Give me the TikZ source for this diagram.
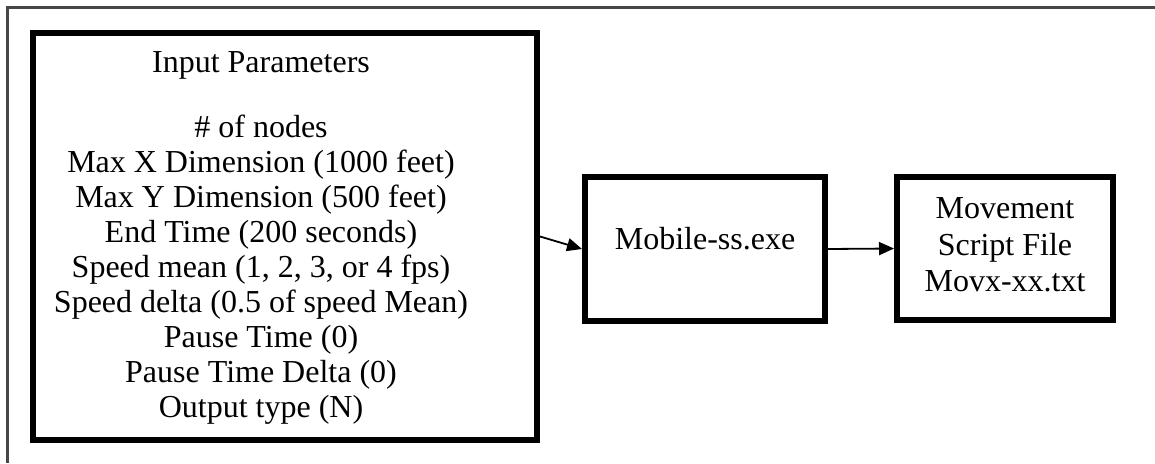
\documentclass[tikz,border=0pt]{standalone}
\usepackage{fontspec}
\setmainfont{Liberation Serif}
\usetikzlibrary{arrows.meta}

\begin{document}
\begin{tikzpicture}[x=1pt, y=-1pt, >={Triangle[length=15pt,width=13pt]},
    box/.style={draw, line width=6pt, inner sep=0pt},
    flow/.style={->, line width=1.8pt},
    frame line/.style={draw=black!72, line width=3pt},
    label text/.style={font=\fontsize{32}{36.5}\selectfont, inner sep=0pt, align=center}]
    \useasboundingbox (0,0) rectangle (1155,463);
    \draw[frame line] (7,463) -- (7,7) -- (1155,7);

    \node[box, minimum width=504pt, minimum height=407pt] (params) at (285,236.5) {};
    \node[label text, anchor=base] (ptitle) at (261,72) {Input Parameters};
    \node[label text, font=\fontsize{32}{35}\selectfont, anchor=north] (plist) at (261,115.1) {\# of nodes\\
        Max X Dimension (1000 feet)\\
        Max Y Dimension (500 feet)\\
        End Time (200 seconds)\\
        Speed mean (1, 2, 3, or 4 fps)\\
        Speed delta (0.5 of speed Mean)\\
        Pause Time (0)\\
        Pause Time Delta (0)\\
        Output type (N)};

    \node[box, minimum width=240pt, minimum height=144pt] (mobile) at (705,249) {};
    \node[label text, anchor=base] (mtext) at (705,249) {Mobile-ss.exe};

    \node[box, minimum width=216pt, minimum height=143pt] (movement) at (1005,248.5) {};
    \node[label text, anchor=north] (vtext) at (1005,197.8) {Movement\\ Script File\\ Movx-xx.txt};

    \draw[flow] (params.east) -- (mobile.west);
    \draw[flow] (mobile.east) -- (movement.west);
\end{tikzpicture}
\end{document}
